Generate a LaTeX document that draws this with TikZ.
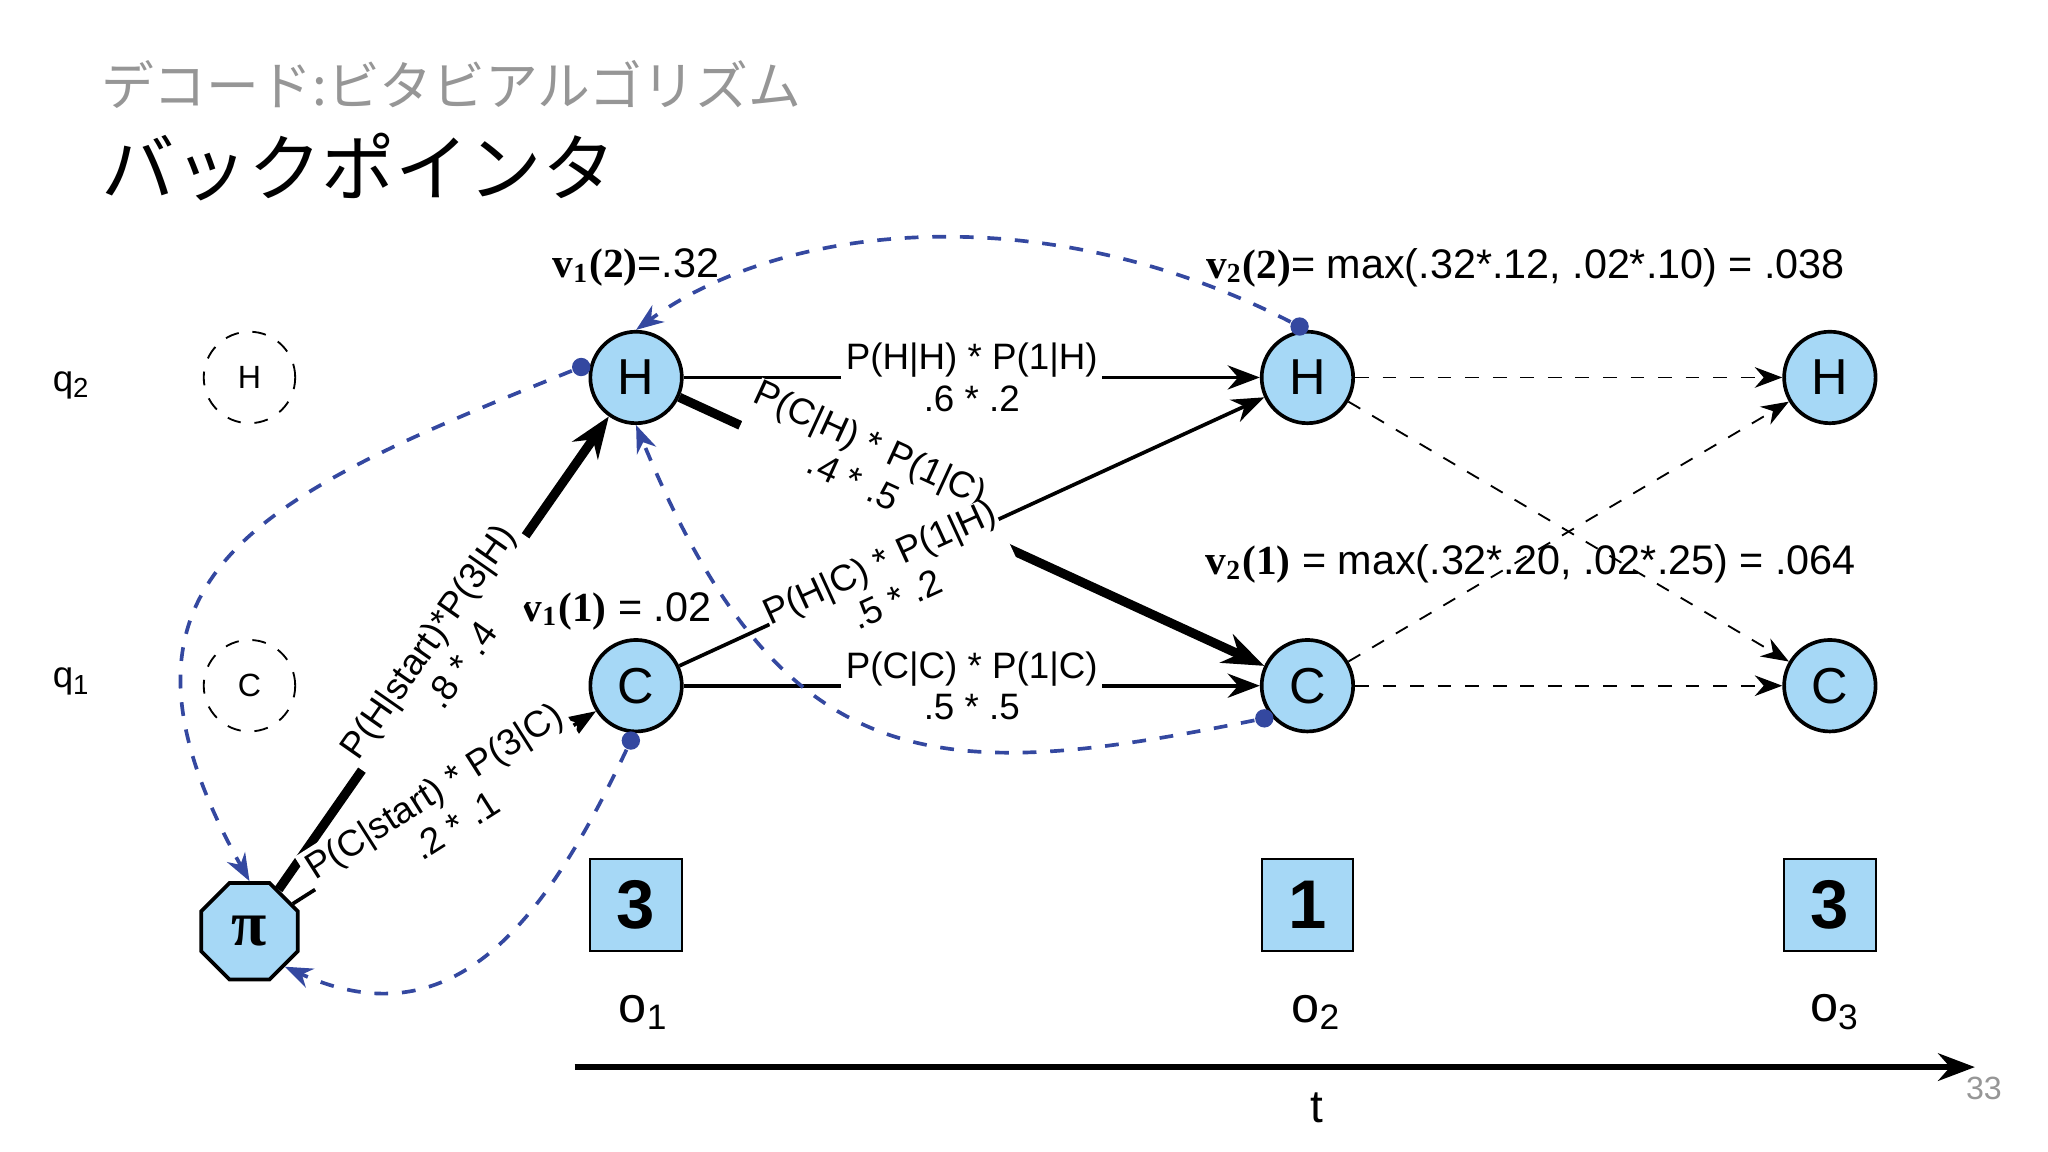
\documentclass[tikz,border=0pt]{standalone}
\usepackage{fontspec}
\setmainfont{Liberation Sans}
\newfontfamily\jp{Noto Sans CJK JP}
\newfontfamily\vser{Liberation Serif}
\usetikzlibrary{shapes.geometric,arrows.meta}
\definecolor{nodeblue}{RGB}{166,216,246}
\definecolor{backblue}{RGB}{52,72,160}
\definecolor{titlegray}{RGB}{150,150,150}
\newcommand{\vval}[2]{{\vser\bfseries v\textsubscript{#1}(#2)}}
\tikzset{
    state/.style={draw, circle, thick, fill=nodeblue, minimum size=0.7cm, inner sep=0pt, font=\fontsize{11}{11}\selectfont},
    ghost/.style={draw, circle, dashed, minimum size=0.7cm, inner sep=0pt, font=\fontsize{7}{7}\selectfont},
    obs/.style={draw, fill=nodeblue, minimum size=0.7cm, inner sep=0pt, font=\fontsize{15}{15}\selectfont\bfseries},
    lbl/.style={font=\fontsize{8}{9}\selectfont, align=center},
    vlbl/.style={font=\fontsize{9}{10}\selectfont},
    back/.style={draw=backblue, dashed, thick, -{Stealth[length=6pt]}},
    dot/.style={circle, fill=backblue, inner sep=0pt, minimum size=4pt},
}
\begin{document}
\begin{tikzpicture}[x=0.01cm, y=-0.01cm]
    \useasboundingbox (0,0) rectangle (1568,882);

    \node[anchor=west, text=titlegray, font=\jp\fontsize{11.5}{12}\selectfont] (title) at (65,65) {デコード:ビタビアルゴリズム};
    \node[anchor=west, font=\jp\fontsize{16}{16}\selectfont] (subtitle) at (65,128) {バックポインタ};

    \node[lbl] (q2) at (55,295) {q\textsubscript{2}};
    \node[lbl] (q1) at (55,522) {q\textsubscript{1}};
    \node[ghost] (gh) at (191,289) {H};
    \node[ghost] (gc) at (191,525) {C};
    \node[draw, thick, fill=nodeblue, regular polygon, regular polygon sides=8, minimum size=0.8cm, inner sep=0pt, font=\fontsize{14}{14}\selectfont] (pi) at (191,713) {{\vser\bfseries π}};

    % states
    \node[state] (h1) at (487,289) {H};
    \node[state] (c1) at (487,525) {C};
    \node[state] (h2) at (1001,289) {H};
    \node[state] (c2) at (1001,525) {C};
    \node[state] (h3) at (1401,289) {H};
    \node[state] (c3) at (1401,525) {C};

    % observations
    \node[obs] (ob1) at (487,693) {3};
    \node[obs] (ob2) at (1001,693) {1};
    \node[obs] (ob3) at (1401,693) {3};
    \node[font=\fontsize{11}{11}\selectfont] (o1) at (493,775) {o\textsubscript{1}};
    \node[font=\fontsize{11}{11}\selectfont] (o2) at (1008,775) {o\textsubscript{2}};
    \node[font=\fontsize{11}{11}\selectfont] (o3) at (1405,775) {o\textsubscript{3}};

    \coordinate (ta) at (440,817);
    \coordinate (tb) at (1512,817);
    \draw[very thick, -{Stealth[length=8pt]}] (ta) -- (tb);
    \node[font=\fontsize{10}{10}\selectfont] (t) at (1008,848) {t};
    \node[font=\fontsize{7}{7}\selectfont, text=titlegray] (page) at (1519,833) {33};

    % viterbi values
    \node[vlbl] (v12) at (487,205) {\vval{1}{2}=.32};
    \node[vlbl] (v22) at (1168,205) {\vval{2}{2}= max(.32*.12, .02*.10) = .038};
    \node[vlbl] (v11) at (472,468) {\vval{1}{1} = .02};
    \node[vlbl] (v21) at (1172,432) {\vval{2}{1} = max(.32*.20, .02*.25) = .064};

    % transitions
    \draw[line width=2pt, -{Stealth[length=9pt]}] (pi) -- node[lbl, sloped, fill=white, inner sep=1pt] {P(H|start)*P(3|H)\\.8 * .4} (h1);
    \draw[thick, -{Stealth[length=7pt]}] (pi) -- node[lbl, sloped, fill=white, inner sep=1pt] {P(C|start) * P(3|C)\\.2 * .1} (c1);
    \draw[thick, -{Stealth[length=7pt]}] (h1) -- node[lbl, fill=white, inner sep=1pt] {P(H|H) * P(1|H)\\.6 * .2} (h2);
    \draw[thick, -{Stealth[length=7pt]}] (c1) -- node[lbl, fill=white, inner sep=1pt] {P(C|C) * P(1|C)\\.5 * .5} (c2);
    \draw[line width=2pt, -{Stealth[length=9pt]}] (h1) -- node[lbl, sloped, pos=.3, yshift=4pt, fill=white, inner sep=0pt] {P(C|H) * P(1|C)\\.4 * .5} (c2);
    \draw[thick, -{Stealth[length=7pt]}] (c1) -- node[lbl, sloped, pos=.35, yshift=-2pt, fill=white, inner sep=0pt] {P(H|C) * P(1|H)\\.5 * .2} (h2);

    \draw[dashed, -{Stealth[length=6pt]}] (h2) -- (h3);
    \draw[dashed, -{Stealth[length=6pt]}] (h2) -- (c3);
    \draw[dashed, -{Stealth[length=6pt]}] (c2) -- (h3);
    \draw[dashed, -{Stealth[length=6pt]}] (c2) -- (c3);

    % backpointers
    \node[dot] (bh2) at (995,250) {};
    \node[dot] (bc2) at (968,550) {};
    \node[dot] (bh1) at (445,281) {};
    \node[dot] (bc1) at (483,567) {};
    \draw[back] (bh2) .. controls (800,150) and (600,170) .. (h1.north);
    \draw[back] (bc2) .. controls (720,600) and (600,600) .. (h1.south);
    \draw[back] (bh1) .. controls (200,380) and (60,440) .. (pi.north);
    \draw[back] (bc1) .. controls (420,700) and (350,800) .. (pi.south east);
\end{tikzpicture}
\end{document}
